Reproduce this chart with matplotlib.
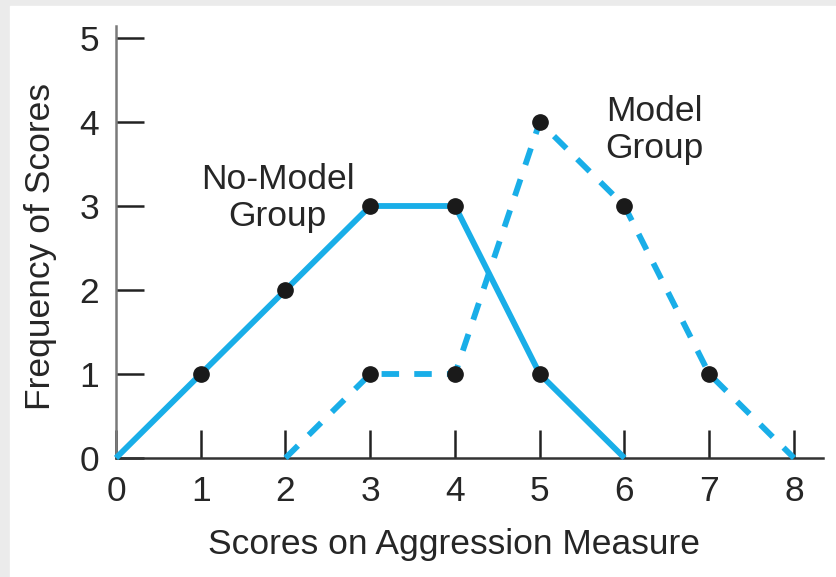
import matplotlib.pyplot as plt
from matplotlib.patches import Rectangle

# data
no_model_x = [0, 1, 2, 3, 4, 5, 6]
no_model_y = [0, 1, 2, 3, 3, 1, 0]
model_x = [2, 3, 4, 5, 6, 7, 8]
model_y = [0, 1, 1, 4, 3, 1, 0]
x_ticks = [0, 1, 2, 3, 4, 5, 6, 7, 8]
y_ticks = [0, 1, 2, 3, 4, 5]

line_color = "#19aee8"
text_color = "#262626"
fs = 25.5
plt.rcParams["font.family"] = ["Liberation Sans", "DejaVu Sans"]

fig = plt.figure(figsize=(8.37, 5.77), dpi=100, facecolor="#ebebeb")
fig.patches.append(Rectangle((10 / 837, 0), 1, (577 - 6) / 577,
                             transform=fig.transFigure, color="white", zorder=-5))

ax = fig.add_axes([116 / 837, (577 - 458) / 577, 707 / 837, 432 / 577])
ax.set_facecolor("none")

ax.plot(no_model_x, no_model_y, color=line_color, lw=4.2,
        solid_capstyle="butt", clip_on=False, zorder=3)
ax.plot(model_x, model_y, color=line_color, lw=4.2, dashes=(3.0, 2.6),
        dash_capstyle="butt", clip_on=False, zorder=3)

# dots on the interior points only
ax.plot(no_model_x[1:-1], no_model_y[1:-1], "o", color="#1a1a1a",
        ms=11, clip_on=False, zorder=4)
ax.plot(model_x[1:-1], model_y[1:-1], "o", color="#1a1a1a",
        ms=11, clip_on=False, zorder=4)

ax.set_xlim(0, 707 / 84.75)
ax.set_ylim(0, 432 / 84)
ax.set_xticks(x_ticks)
ax.set_yticks(y_ticks)

for s in ["top", "right"]:
    ax.spines[s].set_visible(False)
ax.spines["left"].set_color("#7a7a7a")
ax.spines["left"].set_linewidth(1.8)
ax.spines["bottom"].set_color("#333333")
ax.spines["bottom"].set_linewidth(1.8)

ax.tick_params(direction="in", length=20, width=1.8, color="#222222",
               labelsize=fs, labelcolor=text_color, pad=12)

ax.set_xlabel("Scores on Aggression Measure", fontsize=fs, color=text_color)
ax.xaxis.set_label_coords((454 - 116) / 707, -0.162)
ax.set_ylabel("Frequency of Scores", fontsize=fs, color=text_color)
ax.yaxis.set_label_coords(-0.084, 0.49)

ax.text(1.91, 3.1, "No-Model\nGroup", fontsize=fs, color=text_color,
        ha="center", va="center", linespacing=1.15)
ax.text(6.35, 3.9, "Model\nGroup", fontsize=fs, color=text_color,
        ha="center", va="center", linespacing=1.15)

fig.savefig("out.png", dpi=100, facecolor=fig.get_facecolor())
